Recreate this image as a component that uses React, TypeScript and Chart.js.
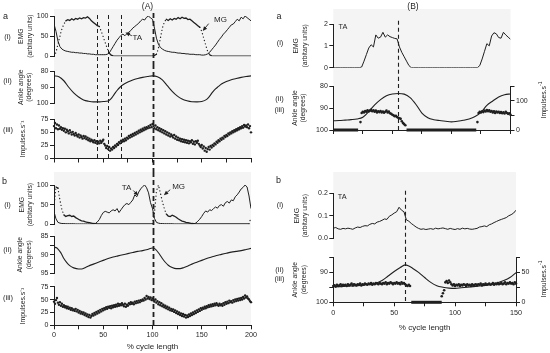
import React, { useEffect, useRef } from 'react';
import { Chart, registerables } from 'chart.js';

Chart.register(...registerables);

const FONT = "'Liberation Sans', Arial, Helvetica, sans-serif";
const INK = '#1f1f1f';
const PANEL_BG = '#f4f4f4';
Chart.defaults.font.family = FONT;
Chart.defaults.font.size = 7;
Chart.defaults.color = INK;

/* ================= (A)  x = % cycle length, 0–200 ================= */
// a(i) EMG (arbitrary units), one value every 2 %
const aTaEmg = [
  80, 62, 38, 24, 18, 15, 13, 12, 11, 10,
  10, 9, 9, 8, 8, 7, 7, 6, 6, 5,
  5, 4, 4, 4, 4, 4, 4, 5, 8, 16,
  24, 32, 40, 46, 52, 55, 51, 56, 60, 64,
  70, 74, 78, 82, 88, 92, 90, 97, 100, 95,
  92, 70, 45, 30, 22, 18, 15, 13, 12, 11,
  10, 10, 9, 8, 8, 7, 7, 6, 6, 5,
  5, 5, 4, 4, 4, 3, 3, 4, 6, 10,
  16, 22, 28, 35, 42, 48, 55, 60, 66, 72,
  78, 80, 86, 92, 88, 97, 93, 100, 96, 92,
  88,
];
const aMgEmg = [
  0, 10, 30, 50, 68, 80, 88, 91, 89, 93,
  90, 94, 92, 95, 93, 96, 95, 98, 94, 88,
  84, 80, 76, 74, 62, 48, 34, 20, 8, 3,
  1, 0.5, 0.5, 0.5, 0.5, 0.5, 0.5, 0.5, 0.5, 0.5,
  0.5, 0.5, 0.5, 0.5, 0.5, 0.5, 0.5, 0.5, 0.5, 0.5,
  0.5, 2, 5, 20, 45, 70, 85, 92, 89, 93,
  90, 94, 92, 96, 93, 97, 94, 95, 91, 92,
  88, 84, 80, 76, 72, 62, 45, 28, 12, 4,
  1, 0.5, 0.5, 0.5, 0.5, 0.5, 0.5, 0.5, 0.5, 0.5,
  0.5, 0.5, 0.5, 0.5, 0.5, 0.5, 0.5, 0.5, 0.5, 0.5,
  0.5,
];
// a(ii) ankle angle (degrees)
const aAngleX = [0, 5, 10, 15, 20, 25, 30, 35, 40, 45, 50, 55, 58, 61, 64, 67, 70, 75, 80, 85, 90, 95, 100, 105, 110, 115, 120, 125, 130, 135, 140, 145, 150, 155, 158, 161, 164, 167, 170, 175, 180, 185, 190, 195, 200];
const aAngleY = [83, 83.5, 86, 90, 93.5, 96, 97.8, 98.6, 99, 99, 98.8, 98.5, 97, 94.5, 92, 90, 88.5, 86.8, 85.5, 84.6, 83.9, 83.4, 83, 83.5, 85.5, 89, 92.5, 95.3, 97.2, 98.3, 98.9, 99, 98.8, 97.5, 95.5, 93, 91, 89.5, 88, 86.5, 85.4, 84.6, 83.9, 83.4, 83];
// a(iii) discharge (impulses/s), one value every 1 %
const aImpulses = [
  62, 68, 58, 65, 56, 63, 57, 60, 55, 58,
  53, 57, 50, 55, 52, 48, 54, 50, 46, 51,
  47, 44, 49, 45, 42, 46, 40, 44, 41, 38,
  43, 39, 42, 37, 40, 35, 38, 33, 36, 34,
  31, 35, 30, 33, 28, 32, 29, 34, 30, 33,
  36, 28, 25, 20, 24, 18, 22, 15, 19, 17,
  22, 20, 25, 23, 28, 26, 31, 29, 34, 32,
  36, 33, 38, 35, 40, 38, 43, 40, 45, 42,
  47, 44, 49, 46, 51, 48, 53, 50, 55, 52,
  57, 54, 59, 56, 60, 58, 62, 59, 64, 60,
  66, 62, 58, 63, 56, 60, 54, 58, 52, 56,
  50, 54, 48, 52, 46, 50, 44, 48, 42, 46,
  43, 40, 45, 38, 42, 36, 40, 35, 38, 33,
  37, 32, 36, 31, 35, 30, 34, 29, 33, 31,
  35, 28, 32, 27, 33, 30, 34, 28, 25, 22,
  26, 19, 23, 15, 20, 13, 18, 22, 17, 24,
  21, 26, 24, 29, 27, 32, 30, 35, 33, 38,
  36, 40, 38, 43, 41, 45, 43, 48, 46, 50,
  48, 52, 50, 54, 52, 56, 54, 58, 56, 60,
  58, 62, 59, 64, 61, 63, 60, 65, 58, 62,
  50,
];
const aEventLines = [43.7, 54.8, 68];
const cycleBoundary = 100;

// b(i) EMG, every 2 %
const bTaEmg = [
  32, 14, 5, 3, 2, 2, 1.5, 1.5, 1.5, 1.5,
  1.5, 1, 1, 1, 1, 1, 1, 1, 1, 1,
  1.5, 2, 6, 12, 22, 30, 33, 31, 29, 34,
  37, 34, 40, 30, 37, 44, 50, 53, 50, 56,
  62, 75, 70, 82, 90, 96, 100, 93, 80, 55,
  40, 15, 5, 3, 2, 2, 1.5, 1.5, 1.5, 1.5,
  1.5, 1, 1, 1, 1, 1, 1, 1, 1, 1,
  1, 1.5, 3, 8, 13, 20, 28, 34, 31, 37,
  35, 40, 44, 41, 48, 50, 46, 55, 58, 54,
  62, 60, 70, 75, 82, 90, 94, 100, 95, 72,
  40,
];
const bMgEmg = [
  45, 95, 92, 62, 38, 24, 20, 22, 23, 20,
  21, 17, 14, 11, 9, 8, 6, 5, 4, 3,
  2, 1.5, 1, 1, 1, 1, 1, 1, 1, 1,
  1, 1, 1, 1, 1, 1, 1, 1, 1, 1,
  1, 1, 1, 1, 1, 1, 1, 1, 1, 1,
  1, 30, 85, 100, 80, 58, 40, 26, 21, 20,
  23, 21, 18, 14, 11, 8, 7, 5, 4, 3,
  2, 1.5, 1, 1, 1, 1, 1, 1, 1, 1,
  1, 1, 1, 1, 1, 1, 1, 1, 1, 1,
  1, 1, 1, 1, 1, 1, 1, 1, 1, 1,
  18,
];
const bAngleX = [0, 3, 5, 7, 10, 13, 16, 20, 25, 28, 32, 36, 40, 45, 50, 55, 60, 65, 70, 75, 80, 85, 90, 95, 100, 102, 104, 107, 110, 113, 116, 120, 124, 128, 132, 136, 140, 145, 150, 155, 160, 165, 170, 175, 180, 185, 190, 195, 200];
const bAngleY = [88.0, 88.2, 88.8, 89.5, 91.0, 92.1, 92.9, 93.5, 93.8, 93.8, 93.4, 92.9, 92.5, 92.0, 91.5, 91.0, 90.6, 90.3, 90.0, 89.7, 89.4, 89.1, 88.9, 88.6, 88.2, 88.3, 88.8, 89.8, 91.0, 92.0, 92.8, 93.4, 93.7, 93.7, 93.4, 93.0, 92.5, 92.0, 91.5, 91.0, 90.6, 90.2, 89.9, 89.6, 89.3, 89.1, 88.9, 88.6, 88.3];
const bImpulses = [
  46, 42, 49, 53, 44, 40, 45, 38, 42, 36,
  39, 35, 37, 33, 36, 32, 34, 30, 33, 29,
  31, 28, 32, 27, 30, 25, 28, 23, 26, 22,
  25, 20, 23, 18, 21, 16, 20, 15, 18, 22,
  19, 24, 21, 26, 23, 28, 25, 30, 27, 32,
  29, 33, 31, 35, 32, 36, 34, 37, 33, 38,
  35, 39, 36, 40, 37, 42, 38, 41, 39, 43,
  40, 37, 42, 36, 40, 38, 43, 41, 45, 42,
  44, 41, 46, 43, 47, 44, 48, 45, 49, 47,
  50, 48, 53, 50, 57, 52, 55, 51, 54, 49,
  52, 48, 46, 50, 44, 47, 41, 45, 39, 43,
  37, 40, 35, 38, 33, 36, 31, 34, 29, 32,
  28, 31, 26, 29, 24, 27, 22, 25, 20, 23,
  18, 22, 17, 20, 15, 19, 16, 21, 18, 23,
  20, 25, 22, 27, 24, 29, 26, 31, 28, 33,
  30, 34, 32, 36, 33, 37, 35, 39, 36, 40,
  37, 41, 38, 42, 39, 43, 40, 38, 42, 39,
  41, 38, 43, 40, 45, 42, 46, 43, 48, 45,
  47, 44, 49, 46, 50, 47, 51, 48, 52, 49,
  53, 50, 55, 52, 58, 54, 56, 52, 50, 47,
  45,
];

/* ================= (B)  x = % cycle length, 0–150 ================= */
// a(i) TA EMG, every 2 %
const BaTaEmg = [
  0, 0, 0, 0, 0, 0, 0, 0, 0, 0,
  0, 0, 0.03, 0.3, 0.6, 0.9, 1.05, 0.95, 1.5, 1.35,
  1.4, 1.62, 1.4, 1.5, 1.42, 1.38, 1.34, 1.32, 0.95, 0.7,
  0.5, 0.3, 0.1, 0, 0, 0, 0, 0, 0, 0,
  0, 0, 0, 0, 0, 0, 0, 0, 0, 0,
  0, 0, 0, 0, 0, 0, 0, 0, 0, 0,
  0, 0, 0.1, 0.4, 0.75, 1.1, 1.0, 1.45, 1.6, 1.55,
  1.38, 1.35, 1.62, 1.5, 1.4, 1.3,
];
// a(ii) ankle angle, every 5 %
const BaAngle = [95.8, 95.7, 95.5, 95.3, 95.0, 94.2, 91.6, 88.6, 86.2, 84.4, 83.6, 83.4, 83.7, 85.3, 88.4, 92.3, 94.4, 95.3, 95.7, 96.0, 96.3, 96.0, 95.6, 95.0, 93.9, 92.0, 88.8, 86.8, 85.0, 84.0, 83.6];
// a(iii) discharge bursts (impulses/s), one value every 1 %
const BaBurst1Start = 23;
const BaBurst1 = [27, 58, 62, 60, 65, 62, 67, 63, 66, 69, 64, 67, 62, 66, 60, 64, 61, 65, 60, 63, 59, 62, 66, 60, 63, 57, 55, 52, 50, 47, 48, 44, 42, 40, 38, 30, 24, 20, 16];
const BaBurst2Start = 122;
const BaBurst2 = [27, 58, 62, 60, 64, 61, 66, 63, 68, 64, 67, 62, 65, 60, 64, 58, 63, 60, 62, 58, 61, 57, 60, 56, 62, 58, 55, 57, 52];
const BaSilentFrom = [0, 62];
const BaSilentTo = [21, 121];
const BaEvent = 55;

// b(i) TA EMG, every 2 %
const BbTaEmg = [
  0.045, 0.048, 0.042, 0.040, 0.044, 0.042, 0.045, 0.043, 0.040, 0.046,
  0.050, 0.048, 0.053, 0.056, 0.055, 0.062, 0.066, 0.064, 0.072, 0.075,
  0.080, 0.086, 0.084, 0.098, 0.104, 0.112, 0.118, 0.138, 0.125, 0.118,
  0.082, 0.076, 0.066, 0.058, 0.050, 0.044, 0.040, 0.042, 0.039, 0.041,
  0.043, 0.040, 0.045, 0.042, 0.044, 0.046, 0.043, 0.040, 0.044, 0.041,
  0.039, 0.043, 0.040, 0.045, 0.042, 0.044, 0.041, 0.040, 0.042, 0.044,
  0.050, 0.052, 0.055, 0.052, 0.060, 0.064, 0.070, 0.075, 0.080, 0.084,
  0.088, 0.092, 0.100, 0.105, 0.112, 0.125,
];
const BbAngleX = [0, 5, 10, 15, 20, 25, 30, 35, 40, 45, 50, 55, 59, 62, 65, 70, 75, 80, 85, 90, 95, 100, 105, 110, 115, 120, 125, 130, 135, 140, 145, 150];
const BbAngleY = [94.8, 94.8, 94.7, 94.6, 94.5, 94.3, 94.0, 93.7, 92.8, 91.3, 89.8, 88.5, 87.6, 88.0, 88.7, 90.1, 91.8, 93.4, 94.5, 95.0, 95.3, 95.4, 95.2, 95.0, 94.8, 94.6, 94.4, 94.0, 93.5, 92.8, 91.8, 90.2];
const BbBurst1Start = 0;
const BbBurst1 = [
  27, 28, 26, 29, 27, 28, 30, 27, 29, 28,
  29, 27, 30, 28, 29, 31, 28, 30, 29, 28,
  30, 29, 31, 28, 30, 29, 31, 30, 29, 31,
  30, 32, 29, 31, 30, 32, 31, 30, 32, 31,
  30, 32, 31, 33, 30, 32, 31, 33, 32, 30,
  32, 31, 33, 31, 32, 30, 33, 31, 32, 30,
  28, 27, 29, 27,
];
const BbBurst2Start = 89;
const BbBurst2 = [
  10, 15, 20, 33, 35, 32, 36, 33, 30,
  28, 30, 27, 29, 28, 30, 27, 29, 28, 30,
  29, 27, 30, 28, 29, 27, 30, 28, 29, 30,
  28, 30, 29, 31, 28, 30, 29, 31, 29, 30,
  31, 29, 30, 32, 29, 31, 30, 32, 30, 31,
  32, 30, 31, 33, 30, 32, 31, 33, 31, 32, 30, 33, 31,
];
const BbSilentFrom = [64];
const BbSilentTo = [89];
const BbEvent = 59;

/* ================= helpers ================= */
const stepPts = (vals: number[], step: number, start = 0) => vals.map((y, i) => ({ x: start + i * step, y }));
const xyPts = (xs: number[], ys: number[]) => xs.map((x, i) => ({ x, y: ys[i] }));
const barPts = (from: number[], to: number[]) =>
  from.flatMap((f, i) => [{ x: f, y: 0 }, { x: to[i], y: 0 }, { x: to[i], y: null as any }]);

const solid = (data: any[], extra: any = {}) => ({
  data, borderColor: INK, borderWidth: 1, pointRadius: 0, tension: 0, fill: false, ...extra,
});
const smooth = (data: any[]) => solid(data, { cubicInterpolationMode: 'monotone', borderWidth: 1.1 });
const dottedWhenSteep = (data: any[]) =>
  solid(data, {
    borderWidth: 1.3,
    borderCapStyle: 'round',
    segment: {
      borderDash: (c: any) => (Math.abs(c.p1.parsed.y - c.p0.parsed.y) > 6 ? [0.1, 3.4] : undefined),
    },
  });
const dots = (data: any[], r: number, axis = 'y') => ({
  data, showLine: false, pointRadius: r, pointBackgroundColor: INK, pointBorderWidth: 0,
  borderColor: INK, yAxisID: axis, clip: false,
});
const silentBar = (data: any[], axis: string) => ({
  data, borderColor: INK, borderWidth: 3, pointRadius: 0, spanGaps: false, yAxisID: axis, clip: false,
});

const show = (list: number[]) => (v: number) => (list.includes(Number(v)) ? String(v) : '');

function yAxis(a: any, position: 'left' | 'right') {
  return {
    type: 'linear', position, min: a.min, max: a.max, reverse: !!a.reverse,
    grid: { display: true, drawOnChartArea: false, drawTicks: true, tickLength: 4, color: INK, lineWidth: 1 },
    border: { display: true, color: INK, width: 1 },
    ticks: {
      stepSize: a.step, autoSkip: false, padding: 1.5, font: { size: 7 }, color: INK,
      callback: a.label || ((v: number) => String(v)),
    },
    title: {
      display: !!a.title, text: a.title, color: INK,
      font: { size: 6.8, lineHeight: 1.2 }, padding: { top: a.titlePad || 0, bottom: 0 },
    },
    afterFit: (sc: any) => { sc.width = a.width; },
  };
}

function figPlugin(p: any) {
  return {
    id: 'figExtras',
    beforeDraw(chart: any) {
      if (!p.bg) return;
      const { ctx, chartArea: a, height } = chart;
      const top = p.bg.top == null ? 0 : a.top - p.bg.top;
      const bottom = p.bg.bottom == null ? height : a.bottom + p.bg.bottom;
      ctx.save();
      ctx.fillStyle = PANEL_BG;
      ctx.fillRect(a.left, top, a.right - a.left, bottom - top);
      ctx.restore();
    },
    afterDatasetsDraw(chart: any) {
      const { ctx, chartArea: a, height, scales } = chart;
      const xs = scales.x;
      (p.vlines || []).forEach((v: any) => {
        const px = Math.round(xs.getPixelForValue(v.x)) + 0.5;
        const y0 = v.top == null ? 0 : a.top - v.top;
        const y1 = v.bottom == null ? height : a.bottom + v.bottom;
        ctx.save();
        ctx.strokeStyle = INK;
        ctx.lineWidth = v.w;
        ctx.setLineDash(v.dash);
        ctx.beginPath();
        ctx.moveTo(px, y0);
        ctx.lineTo(px, y1);
        ctx.stroke();
        ctx.restore();
      });
      (p.notes || []).forEach((n: any) => {
        const ys = scales[n.axis || 'y'];
        ctx.save();
        ctx.fillStyle = INK;
        ctx.strokeStyle = INK;
        ctx.font = `${n.size}px ${FONT}`;
        ctx.textAlign = n.align || 'center';
        ctx.textBaseline = 'middle';
        ctx.fillText(n.text, xs.getPixelForValue(n.x), ys.getPixelForValue(n.y));
        if (n.arrow) {
          const [tx, ty, hx, hy] = n.arrow;
          const x0 = xs.getPixelForValue(tx), y0 = ys.getPixelForValue(ty);
          const x1 = xs.getPixelForValue(hx), y1 = ys.getPixelForValue(hy);
          const ang = Math.atan2(y1 - y0, x1 - x0);
          ctx.lineWidth = 0.9;
          ctx.beginPath();
          ctx.moveTo(x0, y0);
          ctx.lineTo(x1 - 3 * Math.cos(ang), y1 - 3 * Math.sin(ang));
          ctx.stroke();
          ctx.beginPath();
          ctx.moveTo(x1, y1);
          ctx.lineTo(x1 - 4.5 * Math.cos(ang) + 2 * Math.sin(ang), y1 - 4.5 * Math.sin(ang) - 2 * Math.cos(ang));
          ctx.lineTo(x1 - 4.5 * Math.cos(ang) - 2 * Math.sin(ang), y1 - 4.5 * Math.sin(ang) + 2 * Math.cos(ang));
          ctx.closePath();
          ctx.fill();
        }
        ctx.restore();
      });
    },
  };
}

function buildChart(canvas: HTMLCanvasElement, p: any) {
  const scales: any = {
    x: {
      type: 'linear', min: 0, max: p.xMax, display: !!p.xAxis,
      grid: { display: true, drawOnChartArea: false, drawTicks: true, tickLength: 4, color: INK, lineWidth: 1 },
      border: { display: true, color: INK, width: 1 },
      ticks: {
        display: p.xAxis === 'labels', stepSize: 25, autoSkip: false, maxRotation: 0,
        padding: p.xPad ?? 2, font: { size: 7.2 }, color: INK,
        callback: (v: number) => (v % 50 === 0 ? String(v) : ''),
      },
      title: {
        display: p.xAxis === 'labels', text: '% cycle length', color: INK,
        font: { size: 8, lineHeight: 1 }, padding: { top: 0, bottom: p.xTitlePad ?? 2 },
      },
      afterFit: (sc: any) => { sc.height = p.xh || 0; },
    },
    y: yAxis(p.y, 'left'),
  };
  if (p.y2) scales.y2 = yAxis(p.y2, 'right');
  return new Chart(canvas, {
    type: 'line',
    data: { datasets: p.datasets },
    options: {
      animation: false, responsive: false, maintainAspectRatio: false, devicePixelRatio: 1,
      events: [],
      layout: { padding: p.pad },
      plugins: { legend: { display: false }, tooltip: { enabled: false }, title: { display: false } },
      scales,
    } as any,
    plugins: [figPlugin(p)],
  } as any);
}

const thin = (x: number, top: number | null, bottom: number | null) => ({ x, w: 1, dash: [4, 3], top, bottom });
const thick = (x: number, top: number | null, bottom: number | null) => ({ x, w: 1.8, dash: [5, 3], top, bottom });

const EMG_TITLE = ['EMG', '(arbitary units)'];
const ANGLE_TITLE = ['Ankle angle', '(degrees)'];
const IMP_TITLE = 'Impulses.s\u207B\u00B9';

const PANELS: any[] = [
  // ---------- (A) a ----------
  {
    key: 'Aa1', left: 0, top: 0, w: 275, h: 64, pad: { left: 0, right: 24, top: 16, bottom: 7.7 },
    xMax: 200, xAxis: null,
    y: { min: 0, max: 100, step: 50, width: 54, title: EMG_TITLE, titlePad: 17.4 },
    datasets: [solid(stepPts(aTaEmg, 2)), dottedWhenSteep(stepPts(aMgEmg, 2))],
    bg: { top: 7, bottom: null },
    vlines: [...aEventLines.map((x) => thin(x, 1, null)), thick(cycleBoundary, 3, null)],
    notes: [
      { text: 'TA', x: 84.5, y: 45, size: 8, arrow: [79, 51, 72.5, 59] },
      { text: 'MG', x: 169, y: 90, size: 8, arrow: [157, 81, 151, 63] },
    ],
  },
  {
    key: 'Aa2', left: 0, top: 64, w: 275, h: 48, pad: { left: 0, right: 24, top: 7, bottom: 8.5 },
    xMax: 200, xAxis: null,
    y: { min: 80, max: 100, step: 10, reverse: true, width: 54, title: ANGLE_TITLE, titlePad: 16.8 },
    datasets: [smooth(xyPts(aAngleX, aAngleY))],
    bg: { top: null, bottom: null },
    vlines: [...aEventLines.map((x) => thin(x, null, null)), thick(cycleBoundary, null, null)],
  },
  {
    key: 'Aa3', left: 0, top: 112, w: 275, h: 60, pad: { left: 0, right: 24, top: 7.3, bottom: 0 },
    xMax: 200, xAxis: 'ticks', xh: 13.5,
    y: { min: 0, max: 75, step: 25, width: 54, title: IMP_TITLE, titlePad: 18.6 },
    datasets: [dots(stepPts(aImpulses, 1), 1.2)],
    bg: { top: null, bottom: 0 },
    vlines: [...aEventLines.map((x) => thin(x, null, 0.5)), thick(cycleBoundary, null, null)],
  },
  // ---------- (A) b ----------
  {
    key: 'Ab1', left: 0, top: 172, w: 275, h: 58, pad: { left: 0, right: 24, top: 13, bottom: 5.7 },
    xMax: 200, xAxis: null,
    y: { min: 0, max: 100, step: 50, width: 54, title: EMG_TITLE, titlePad: 17.6 },
    datasets: [solid(stepPts(bTaEmg, 2)), dottedWhenSteep(stepPts(bMgEmg, 2))],
    bg: { top: null, bottom: null },
    vlines: [thick(cycleBoundary, null, null)],
    notes: [
      { text: 'TA', x: 73.6, y: 92, size: 8, arrow: [80.5, 86, 85.5, 73] },
      { text: 'MG', x: 126.5, y: 95, size: 8, arrow: [118, 88, 111.5, 74] },
    ],
  },
  {
    key: 'Ab2', left: 0, top: 230, w: 275, h: 50, pad: { left: 0, right: 24, top: 6, bottom: 6.5 },
    xMax: 200, xAxis: null,
    y: { min: 85, max: 95, step: 2.5, reverse: true, width: 54, title: ANGLE_TITLE, titlePad: 16.5, label: show([85, 90, 95]) },
    datasets: [smooth(xyPts(bAngleX, bAngleY))],
    bg: { top: null, bottom: null },
    vlines: [thick(cycleBoundary, null, null)],
  },
  {
    key: 'Ab3', left: 0, top: 280, w: 275, h: 73, pad: { left: 0, right: 24, top: 6.7, bottom: 0 },
    xMax: 200, xAxis: 'labels', xh: 27.7, xPad: 1.9, xTitlePad: 2.3,
    y: { min: 0, max: 75, step: 25, width: 54, title: IMP_TITLE, titlePad: 19 },
    datasets: [dots(stepPts(bImpulses, 1), 1.2)],
    bg: { top: null, bottom: 0 },
    vlines: [thick(cycleBoundary, null, 0)],
  },
  // ---------- (B) a ----------
  {
    key: 'Ba1', left: 275, top: 0, w: 275, h: 77, pad: { left: 0, right: 39.5, top: 24, bottom: 9.3 },
    xMax: 150, xAxis: null,
    y: { min: 0, max: 2, step: 1, width: 58.3, title: EMG_TITLE, titlePad: 17.4 },
    datasets: [solid(stepPts(BaTaEmg, 2))],
    bg: { top: 15, bottom: null },
    vlines: [{ x: BaEvent, w: 1.1, dash: [4, 3], top: 3.3, bottom: null }],
    notes: [{ text: 'TA', x: 4.5, y: 1.86, size: 7.3, align: 'left' }],
  },
  {
    key: 'Ba2', left: 275, top: 77, w: 275, h: 68, pad: { left: 0, right: 19.5, top: 9, bottom: 0 },
    xMax: 150, xAxis: 'ticks', xh: 15,
    y: { min: 80, max: 100, step: 10, reverse: true, width: 58.3, title: ANGLE_TITLE, titlePad: 16.2 },
    y2: { min: 0, max: 150, step: 50, width: 20, label: show([0, 100]) },
    datasets: [
      smooth(stepPts(BaAngle, 5)),
      silentBar(barPts(BaSilentFrom, BaSilentTo), 'y2'),
      dots(stepPts(BaBurst1, 1, BaBurst1Start), 1.3, 'y2'),
      dots(stepPts(BaBurst2, 1, BaBurst2Start), 1.3, 'y2'),
    ],
    bg: { top: null, bottom: 0 },
    vlines: [{ x: BaEvent, w: 1.1, dash: [4, 3], top: null, bottom: 3 }],
  },
  // ---------- (B) b ----------
  {
    key: 'Bb1', left: 275, top: 170, w: 275, h: 78, pad: { left: 0, right: 34, top: 23.3, bottom: 9.7 },
    xMax: 150, xAxis: null,
    y: { min: 0, max: 0.2, step: 0.1, width: 58.3, title: EMG_TITLE, titlePad: 17.8, label: (v: number) => Number(v).toFixed(1) },
    datasets: [solid(stepPts(BbTaEmg, 2))],
    bg: { top: 21.3, bottom: null },
    vlines: [{ x: BbEvent, w: 1.1, dash: [4, 3], top: 2.6, bottom: null }],
    notes: [{ text: 'TA', x: 3.7, y: 0.184, size: 7.3, align: 'left' }],
  },
  {
    key: 'Bb2', left: 275, top: 248, w: 275, h: 105, pad: { left: 0, right: 14, top: 9, bottom: 20.7 },
    xMax: 150, xAxis: 'labels', xh: 30, xPad: 2.7, xTitlePad: 0.3,
    y: { min: 85, max: 100, step: 5, reverse: true, width: 58.3, title: ANGLE_TITLE, titlePad: 16.4, label: show([90, 100]) },
    y2: { min: 0, max: 75, step: 25, width: 20, label: show([0, 50]) },
    datasets: [
      smooth(xyPts(BbAngleX, BbAngleY)),
      silentBar(barPts(BbSilentFrom, BbSilentTo), 'y2'),
      dots(stepPts(BbBurst1, 1, BbBurst1Start), 1.3, 'y2'),
      dots(stepPts(BbBurst2, 1, BbBurst2Start), 1.3, 'y2'),
    ],
    bg: { top: null, bottom: 0 },
    vlines: [{ x: BbEvent, w: 1.1, dash: [4, 3], top: null, bottom: 0.5 }],
  },
];

const TEXTS = [
  { t: '(A)', x: 147.5, y: 6.3, s: 8.5 },
  { t: '(B)', x: 413, y: 6.3, s: 8.5 },
  { t: 'a', x: 5.5, y: 15.5, s: 9 },
  { t: 'b', x: 4.5, y: 181, s: 9 },
  { t: 'a', x: 279, y: 15.5, s: 9 },
  { t: 'b', x: 278.5, y: 180, s: 9 },
  { t: '(i)', x: 7.5, y: 37, s: 7.5 },
  { t: '(ii)', x: 7.5, y: 81, s: 7.5 },
  { t: '(iii)', x: 8, y: 130, s: 7.5 },
  { t: '(i)', x: 7.5, y: 205, s: 7.5 },
  { t: '(ii)', x: 7.5, y: 250, s: 7.5 },
  { t: '(iii)', x: 8, y: 298, s: 7.5 },
  { t: '(i)', x: 280, y: 43, s: 7.5 },
  { t: '(ii)', x: 279.5, y: 99, s: 7.5 },
  { t: '(iii)', x: 279.5, y: 109.5, s: 7.5 },
  { t: '(i)', x: 280, y: 205, s: 7.5 },
  { t: '(ii)', x: 279.5, y: 270, s: 7.5 },
  { t: '(iii)', x: 279.5, y: 278.5, s: 7.5 },
];
const RIGHT_TITLES = [
  { x: 543.5, y: 100 },
  { x: 543.5, y: 279 },
];

function PanelCanvas({ spec }: { spec: any }) {
  const ref = useRef<HTMLCanvasElement>(null);
  useEffect(() => {
    if (!ref.current) return;
    const chart = buildChart(ref.current, spec);
    return () => chart.destroy();
  }, [spec]);
  return (
    <canvas
      ref={ref}
      width={spec.w}
      height={spec.h}
      style={{ position: 'absolute', left: spec.left, top: spec.top, width: spec.w, height: spec.h, display: 'block' }}
    />
  );
}

export default function App() {
  const base: React.CSSProperties = {
    position: 'absolute', transform: 'translate(-50%, -50%)', whiteSpace: 'nowrap',
    fontFamily: FONT, color: INK, lineHeight: 1,
  };
  return (
    <div style={{ position: 'absolute', left: 0, top: 0, width: 550, height: 353, background: '#fff', overflow: 'hidden' }}>
      {PANELS.map((p) => (
        <PanelCanvas key={p.key} spec={p} />
      ))}
      {TEXTS.map((t, i) => (
        <div key={i} style={{ ...base, left: t.x, top: t.y, fontSize: t.s }}>{t.t}</div>
      ))}
      {RIGHT_TITLES.map((r, i) => (
        <div key={'r' + i} style={{ ...base, left: r.x, top: r.y, fontSize: 6.8, transform: 'translate(-50%, -50%) rotate(-90deg)' }}>
          Impulses.s<sup style={{ fontSize: 5, verticalAlign: 'super', lineHeight: 0 }}>-1</sup>
        </div>
      ))}
    </div>
  );
}
